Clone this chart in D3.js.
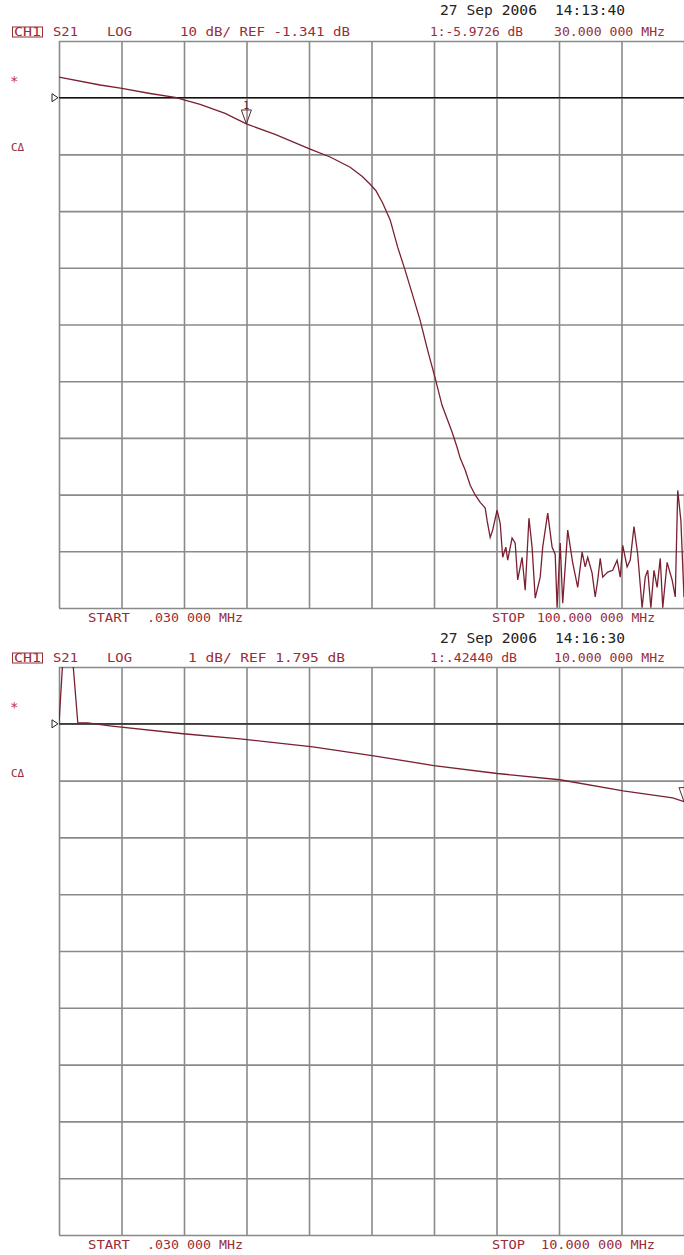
<!DOCTYPE html>
<html>
<head>
<meta charset="utf-8">
<script src="https://cdn.jsdelivr.net/npm/d3@7"></script>
<style>
  body { margin: 0; background: #fff; }
  svg { display: block; }
  text { font-family: "DejaVu Sans Mono", monospace; }
</style>
</head>
<body>
<svg width="684" height="1255"></svg>
<script>
// top sweep: 0.03 - 100 MHz, 10 dB/div, ref -1.341 dB
const topFreq = [0.03, 6.6, 10.1, 14.6, 18.6, 22.6, 26.6, 30.0, 34.6, 40.2, 43.4, 46.6, 48.5, 49.8, 50.7, 51.8,
  53.0, 54.2, 55.4, 56.5, 57.8, 59.0, 60.2, 61.3, 62.9, 63.7, 64.2, 65.0, 65.8, 66.6, 67.4, 67.8, 68.2, 68.5,
  69.0, 69.4, 70.1, 70.6, 71.0, 71.5, 71.8, 72.5, 73.0, 73.4, 74.1, 74.6, 75.2, 75.7, 76.2, 77.0, 77.4, 78.2,
  78.9, 79.4, 79.7, 80.2, 80.6, 81.4, 82.2, 83.0, 83.7, 84.2, 84.6, 85.3, 85.8, 86.2, 86.6, 87.0, 87.8, 88.6,
  89.3, 89.8, 90.2, 90.9, 91.4, 92.0, 92.6, 93.3, 93.8, 94.2, 94.7, 95.2, 95.7, 96.2, 96.6, 97.3, 98.1, 98.6,
  99.0, 99.5, 100]
const topDb = [2.3, 0.9, 0.3, -0.6, -1.3, -2.5, -4.1, -5.97, -7.8, -10.4, -11.8, -13.6, -15.2, -16.6, -17.7, -19.9,
  -22.9, -27.7, -31.8, -35.8, -40.6, -45.9, -50.8, -55.6, -60.3, -63.0, -64.9, -67.0, -69.7, -71.4, -72.7, -73.2, -73.7, -75.9,
  -78.9, -77.6, -74.1, -76.4, -82.4, -80.6, -82.9, -79.0, -79.9, -86.4, -82.4, -88.2, -75.5, -80.6, -89.6, -85.9, -80.6, -74.6,
  -80.6, -81.9, -91.3, -79.9, -90.5, -77.6, -83.4, -87.7, -81.5, -84.1, -82.4, -85.2, -89.4, -86.4, -82.6, -85.9, -85.0, -84.7,
  -82.9, -85.9, -80.3, -84.1, -82.9, -77.0, -81.9, -91.3, -85.9, -84.7, -91.3, -84.7, -87.7, -82.6, -91.3, -83.3, -86.4, -89.4,
  -70.6, -75.9, -89.4]

// bottom sweep: 0.03 - 10 MHz, 1 dB/div, ref 1.795 dB
const botFreq = [0.03, 0.09, 0.25, 0.33, 0.49, 0.84, 2.01, 2.92, 4.08, 5.05, 6.01, 7.02, 8.02, 9.03, 9.82, 10.0]
const botDb = [1.8, 2.9, 2.9, 1.81, 1.81, 1.76, 1.62, 1.53, 1.39, 1.23, 1.06, 0.92, 0.81, 0.615, 0.49, 0.4244]

const topHeader = ["S21", "LOG", "10 dB/ REF -1.341 dB", "1:-5.9726 dB", "30.000 000 MHz"]
const botHeader = ["S21", "LOG", "1 dB/ REF 1.795 dB", "1:.42440 dB", "10.000 000 MHz"]
const topDate = ["27 Sep 2006", "14:13:40"]
const botDate = ["27 Sep 2006", "14:16:30"]
const topFooter = ["START", ".030 000 MHz", "STOP", "100.000 000 MHz"]
const botFooter = ["START", ".030 000 MHz", "STOP", "10.000 000 MHz"]

const red = "#9a2c37", trace = "#7a2030"
const svg = d3.select("svg")

function panel(o) {
  let x = d3.scaleLinear().domain([o.start, o.stop]).range([59, 684])
  let y = d3.scaleLinear().domain([o.ref - 9 * o.per, o.ref + o.per]).range([o.bottom, o.top])
  let g = svg.append("g")

  // grid from axes
  let xt = d3.range(11).map(i => o.start + i * (o.stop - o.start) / 10)
  let yt = d3.range(11).map(i => o.ref + o.per - i * o.per)
  g.append("g").attr("transform", `translate(0,${o.bottom})`)
    .call(d3.axisBottom(x).tickValues(xt).tickSize(-(o.bottom - o.top)).tickFormat(""))
  g.append("g").attr("transform", "translate(59,0)")
    .call(d3.axisLeft(y).tickValues(yt).tickSize(-625).tickFormat(""))
  g.selectAll(".domain").remove()
  g.selectAll(".tick line").attr("stroke", "#8a8a8a").attr("stroke-width", 1.6)

  // reference line
  g.append("line").attr("x1", 59).attr("x2", 684).attr("y1", y(o.ref)).attr("y2", y(o.ref))
    .attr("stroke", "#111").attr("stroke-width", 1.3)
  g.append("path")
    .attr("d", `M52,${y(o.ref) - 4}L58,${y(o.ref)}L52,${y(o.ref) + 4}Z`)
    .attr("fill", "#fff").attr("stroke", "#222").attr("stroke-width", 1)

  // trace
  let id = "clip" + o.top
  svg.append("clipPath").attr("id", id).append("rect")
    .attr("x", 59).attr("y", o.top).attr("width", 625).attr("height", o.bottom - o.top)
  let pts = o.freq.map((f, i) => [f, o.db[i]])
  g.append("path").datum(pts)
    .attr("clip-path", `url(#${id})`)
    .attr("d", d3.line().x(d => x(d[0])).y(d => y(d[1])))
    .attr("fill", "none").attr("stroke", trace).attr("stroke-width", 1.3)

  // marker 1
  let mx = x(o.mFreq), my = y(o.mDb)
  g.append("path").attr("d", `M${mx},${my}L${mx - 5},${my - 14}L${mx + 5},${my - 14}Z`)
    .attr("fill", "none").attr("stroke", "#5a2a30").attr("stroke-width", 1)
  if (o.mLabel)
    g.append("text").attr("x", mx).attr("y", my - 15).attr("text-anchor", "middle")
      .attr("font-size", 10).attr("fill", "#5a2a30").text("1")

  // header
  let hy = o.top - 5
  g.append("rect").attr("x", 12.5).attr("y", hy - 9).attr("width", 30).attr("height", 10)
    .attr("fill", "none").attr("stroke", red).attr("stroke-width", 1)
  g.append("text").attr("x", 14).attr("y", hy).attr("font-size", 12).attr("fill", red)
    .attr("textLength", 27).attr("lengthAdjust", "spacingAndGlyphs").text("CH1")
  let hx = [[53, 25], [107, 25], [o.refX, o.refW], [430, o.mW], [554, 111]]
  o.header.forEach((s, i) => {
    g.append("text").attr("x", hx[i][0]).attr("y", hy).attr("font-size", 12).attr("fill", red)
      .attr("textLength", hx[i][1]).attr("lengthAdjust", "spacingAndGlyphs").text(s)
  })

  // date
  let dx = [[440, 97], [555, 70]]
  o.date.forEach((s, i) => {
    g.append("text").attr("x", dx[i][0]).attr("y", o.dateY).attr("font-size", 13.5).attr("fill", "#222")
      .attr("textLength", dx[i][1]).attr("lengthAdjust", "spacingAndGlyphs").text(s)
  })

  // side labels
  g.append("text").attr("x", 10).attr("y", o.top + 45).attr("font-size", 14).attr("fill", "#c0303a").text("*")
  g.append("text").attr("x", 11).attr("y", o.top + 110).attr("font-size", 11).attr("fill", red).text("CΔ")

  // footer
  let fx = [[88, 42], [147, 96], [492, 33], [o.stopX, o.stopW]]
  o.footer.forEach((s, i) => {
    g.append("text").attr("x", fx[i][0]).attr("y", o.bottom + 14).attr("font-size", 12).attr("fill", red)
      .attr("textLength", fx[i][1]).attr("lengthAdjust", "spacingAndGlyphs").text(s)
  })
}

panel({ top: 41, bottom: 608, start: 0.03, stop: 100, ref: -1.341, per: 10,
  freq: topFreq, db: topDb, mFreq: 30, mDb: -5.9726, mLabel: true, dateY: 15,
  header: topHeader, date: topDate, footer: topFooter,
  refX: 180, refW: 170, mW: 93, stopX: 537, stopW: 118 })

panel({ top: 667, bottom: 1235, start: 0.03, stop: 10, ref: 1.795, per: 1,
  freq: botFreq, db: botDb, mFreq: 10, mDb: 0.4244, mLabel: false, dateY: 643,
  header: botHeader, date: botDate, footer: botFooter,
  refX: 188, refW: 157, mW: 87, stopX: 541, stopW: 114 })
</script>
</body>
</html>
